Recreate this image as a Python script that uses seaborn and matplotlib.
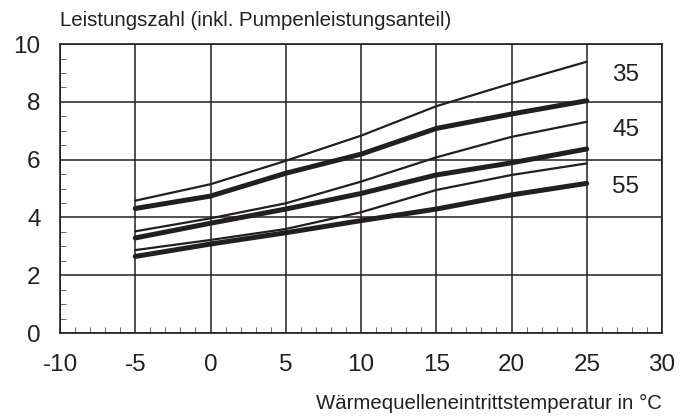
import pandas as pd
import matplotlib.pyplot as plt
import numpy as np
import seaborn as sns
from matplotlib.ticker import MultipleLocator

# Data
temps = [-5, 0, 5, 10, 15, 20, 25]
thin_35 = [4.58, 5.15, 5.96, 6.83, 7.85, 8.64, 9.39]
thick_35 = [4.31, 4.74, 5.53, 6.19, 7.08, 7.58, 8.04]
thin_45 = [3.52, 3.97, 4.49, 5.24, 6.08, 6.79, 7.31]
thick_45 = [3.29, 3.80, 4.29, 4.83, 5.47, 5.89, 6.37]
thin_55 = [2.87, 3.22, 3.60, 4.18, 4.95, 5.47, 5.87]
thick_55 = [2.65, 3.08, 3.47, 3.89, 4.29, 4.78, 5.18]
curve_labels = ["35", "45", "55"]
label_y = [8.93, 7.04, 5.06]

sns.set_style("white")
plt.rcParams['font.family'] = ['Liberation Sans', 'DejaVu Sans']
plt.rcParams['axes.unicode_minus'] = False

ink = '#231f20'
fig = plt.figure(figsize=(6.97, 4.16), dpi=100)
ax = fig.add_axes([0.0861, 0.1995, 0.8637, 0.6945])

for vals, lw in [(thin_35, 1.6), (thin_45, 1.6), (thin_55, 1.6),
                 (thick_35, 3.6), (thick_45, 3.6), (thick_55, 3.6)]:
    sns.lineplot(x=temps, y=vals, ax=ax, color=ink, lw=lw,
                 solid_capstyle='round', zorder=3)

for lab, yy in zip(curve_labels, label_y):
    ax.text(27.6, yy, lab, fontsize=17.5, color=ink, ha='center', va='center')

ax.set_xlim(-10, 30)
ax.set_ylim(0, 10)
ax.xaxis.set_major_locator(MultipleLocator(5))
ax.yaxis.set_major_locator(MultipleLocator(2))
ax.xaxis.set_minor_locator(MultipleLocator(1))
ax.yaxis.set_minor_locator(MultipleLocator(0.5))
ax.grid(True, which='major', color=ink, lw=1.1)
ax.tick_params(which='major', length=0, labelsize=17.5, colors=ink)
ax.tick_params(axis='x', which='major', pad=15)
ax.tick_params(axis='y', which='major', pad=14)
ax.tick_params(which='minor', direction='in', length=4, width=0.6,
               color='#555555', bottom=True, left=True)
for s in ax.spines.values():
    s.set_color(ink)
    s.set_linewidth(1.2)

fig.text(60 / 697, 1 - 20 / 416, "Leistungszahl (inkl. Pumpenleistungsanteil)",
         fontsize=14.7, color=ink, ha='left', va='center')
fig.text(662 / 697, 1 - 403 / 416, "Wärmequelleneintrittstemperatur in °C",
         fontsize=14.7, color=ink, ha='right', va='center')

fig.savefig('out.png', dpi=100)
